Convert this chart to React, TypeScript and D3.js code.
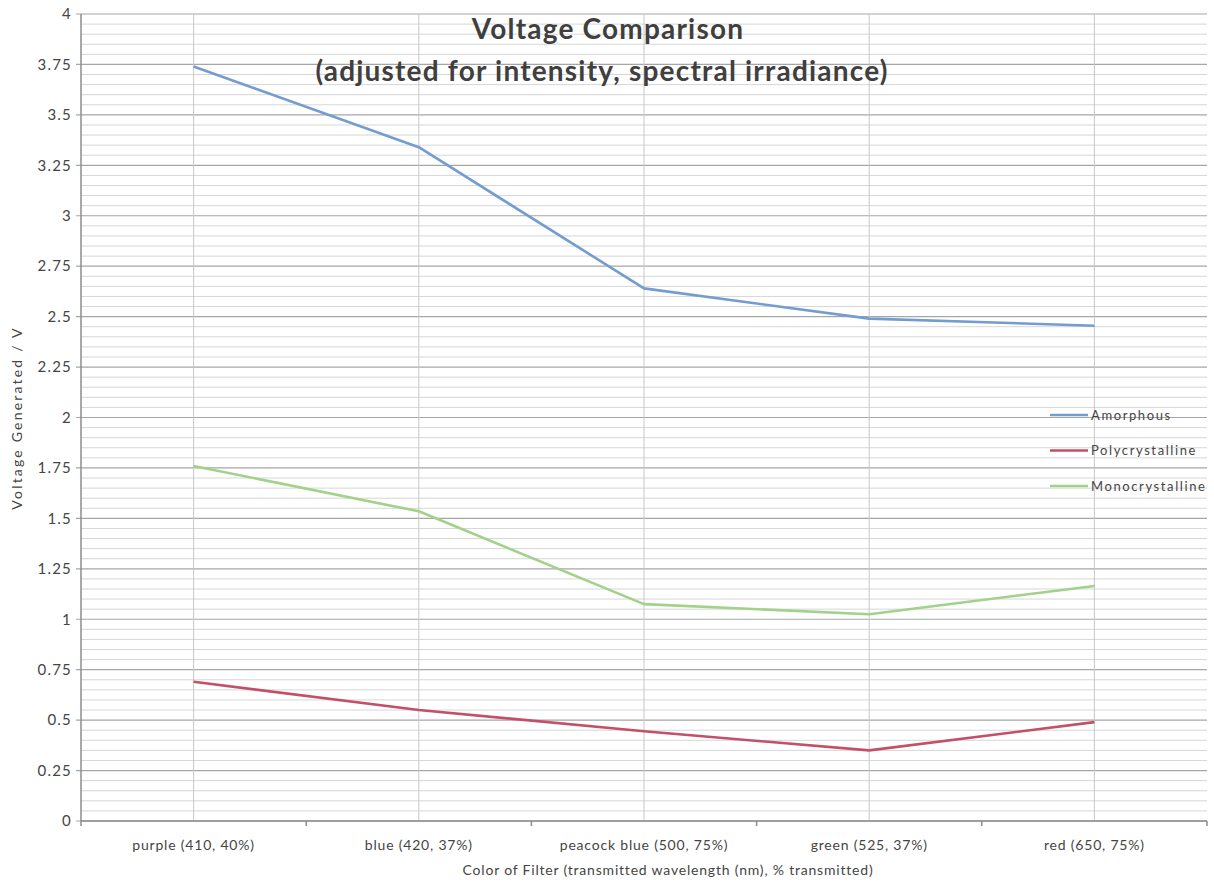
import React, { useEffect, useRef } from "react";
import * as d3 from "d3";

const categories = [
  "purple (410, 40%)",
  "blue (420, 37%)",
  "peacock blue (500, 75%)",
  "green (525, 37%)",
  "red (650, 75%)",
];
const amorphous = [3.74, 3.34, 2.64, 2.49, 2.455];
const polycrystalline = [0.69, 0.55, 0.445, 0.35, 0.49];
const monocrystalline = [1.76, 1.535, 1.075, 1.025, 1.165];
const seriesNames = ["Amorphous", "Polycrystalline", "Monocrystalline"];
const seriesColors = ["#739ccf", "#c25069", "#a2d18a"];
const yTicks = [0, 0.25, 0.5, 0.75, 1, 1.25, 1.5, 1.75, 2, 2.25, 2.5, 2.75, 3, 3.25, 3.5, 3.75, 4];

const W = 1214;
const H = 886;
const margin = { top: 14, right: 7, bottom: 65, left: 81 };
const font = "Lato, 'Open Sans', sans-serif";
const textColor = "#454545";

export default function App() {
  const ref = useRef<SVGSVGElement>(null);

  useEffect(() => {
    document.body.style.margin = "0";
    const svg = d3.select(ref.current);
    svg.selectAll("*").remove();

    const x = d3
      .scaleBand()
      .domain(categories)
      .range([margin.left, W - margin.right]);
    const y = d3
      .scaleLinear()
      .domain([0, 4])
      .range([H - margin.bottom, margin.top]);
    const cx = (c: string) => x(c)! + x.bandwidth() / 2;

    const g = svg.append("g");

    // minor gridlines every 0.05
    const minor = d3
      .range(0, 4.001, 0.05)
      .filter((v) => Math.abs(v / 0.25 - Math.round(v / 0.25)) > 1e-6);
    g.selectAll(".minor")
      .data(minor)
      .join("line")
      .attr("x1", margin.left)
      .attr("x2", W - margin.right)
      .attr("y1", (d) => y(d))
      .attr("y2", (d) => y(d))
      .attr("stroke", "#d6d6d6")
      .attr("stroke-width", 1);

    // major gridlines
    g.selectAll(".major")
      .data(yTicks)
      .join("line")
      .attr("x1", margin.left - 5)
      .attr("x2", W - margin.right)
      .attr("y1", (d) => y(d))
      .attr("y2", (d) => y(d))
      .attr("stroke", "#a6a6a6")
      .attr("stroke-width", 1.2);

    // vertical gridlines at category centres
    g.selectAll(".vgrid")
      .data(categories)
      .join("line")
      .attr("x1", (d) => cx(d))
      .attr("x2", (d) => cx(d))
      .attr("y1", margin.top)
      .attr("y2", H - margin.bottom)
      .attr("stroke", "#c8c8c8")
      .attr("stroke-width", 1);

    // axes
    g.append("line")
      .attr("x1", margin.left)
      .attr("x2", margin.left)
      .attr("y1", margin.top)
      .attr("y2", H - margin.bottom)
      .attr("stroke", "#8c8c8c")
      .attr("stroke-width", 1.5);
    g.append("line")
      .attr("x1", margin.left)
      .attr("x2", W - margin.right)
      .attr("y1", H - margin.bottom)
      .attr("y2", H - margin.bottom)
      .attr("stroke", "#8c8c8c")
      .attr("stroke-width", 1.5);

    const bounds = categories.map((c) => x(c)!).concat([W - margin.right]);
    g.selectAll(".xtick")
      .data(bounds)
      .join("line")
      .attr("x1", (d) => d)
      .attr("x2", (d) => d)
      .attr("y1", H - margin.bottom)
      .attr("y2", H - margin.bottom + 5)
      .attr("stroke", "#8c8c8c")
      .attr("stroke-width", 1.5);

    // tick labels
    g.selectAll(".ylab")
      .data(yTicks)
      .join("text")
      .attr("x", margin.left - 9)
      .attr("y", (d) => y(d))
      .attr("dy", "0.35em")
      .attr("text-anchor", "end")
      .attr("font-family", font)
      .attr("font-size", 15)
      .attr("letter-spacing", 1.2)
      .attr("fill", textColor)
      .text((d) => String(d));

    g.selectAll(".xlab")
      .data(categories)
      .join("text")
      .attr("x", (d) => cx(d))
      .attr("y", H - margin.bottom + 29)
      .attr("text-anchor", "middle")
      .attr("font-family", font)
      .attr("font-size", 14)
      .attr("letter-spacing", 0.8)
      .attr("fill", textColor)
      .text((d) => d);

    // axis titles
    g.append("text")
      .attr("x", 668)
      .attr("y", H - 11)
      .attr("text-anchor", "middle")
      .attr("font-family", font)
      .attr("font-size", 14)
      .attr("letter-spacing", 0.8)
      .attr("fill", textColor)
      .text("Color of Filter (transmitted wavelength (nm), % transmitted)");
    g.append("text")
      .attr("transform", `translate(22,418) rotate(-90)`)
      .attr("text-anchor", "middle")
      .attr("font-family", font)
      .attr("font-size", 14)
      .attr("letter-spacing", 2.2)
      .attr("fill", textColor)
      .text("Voltage Generated / V");

    // title
    const title = g
      .append("text")
      .attr("text-anchor", "middle")
      .attr("font-family", font)
      .attr("font-weight", "bold")
      .attr("font-size", 28)
      .attr("letter-spacing", 1.2)
      .attr("fill", "#3f3f3f");
    title.append("tspan").attr("x", 608).attr("y", 39).text("Voltage Comparison");
    title.append("tspan").attr("x", 602).attr("y", 81).text("(adjusted for intensity, spectral irradiance)");

    // series
    const allSeries = [amorphous, polycrystalline, monocrystalline];
    const line = d3
      .line<number>()
      .x((_, i) => cx(categories[i]))
      .y((d) => y(d));
    allSeries.forEach((s, i) => {
      g.append("path")
        .datum(s)
        .attr("d", line)
        .attr("fill", "none")
        .attr("stroke", seriesColors[i])
        .attr("stroke-width", 2.6)
        .attr("stroke-linejoin", "round");
    });

    // legend
    const legend = g.append("g").attr("transform", "translate(1050,415)");
    seriesNames.forEach((name, i) => {
      const row = legend.append("g").attr("transform", `translate(0,${i * 35.5})`);
      row
        .append("line")
        .attr("x1", 0)
        .attr("x2", 38)
        .attr("stroke", seriesColors[i])
        .attr("stroke-width", 2.5);
      row
        .append("text")
        .attr("x", 41)
        .attr("dy", "0.35em")
        .attr("font-family", font)
        .attr("font-size", 13)
        .attr("letter-spacing", 1.6)
        .attr("fill", textColor)
        .text(name);
    });
  }, []);

  return (
    <svg
      ref={ref}
      width={W}
      height={H}
      style={{ display: "block", background: "#fff" }}
    />
  );
}
